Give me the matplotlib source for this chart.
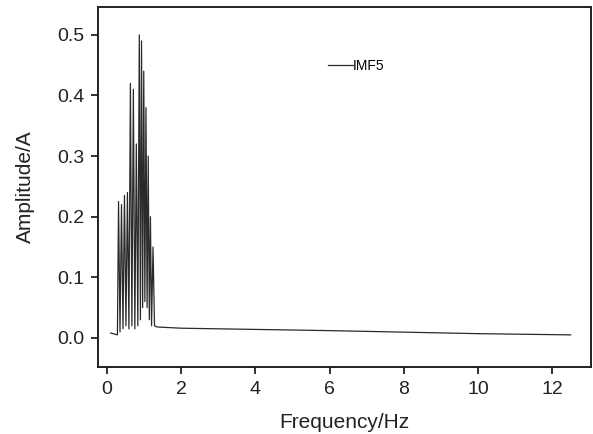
import numpy as np
import matplotlib
matplotlib.use("Agg")
import matplotlib.pyplot as plt

plt.rcParams['font.family'] = ['Liberation Sans', 'DejaVu Sans']

# spectrum of IMF5
freq = [0.10, 0.28, 0.31, 0.35, 0.39, 0.43, 0.47, 0.51, 0.55, 0.59, 0.63,
        0.67, 0.71, 0.75, 0.79, 0.83, 0.87, 0.90, 0.93, 0.96, 0.99, 1.02,
        1.05, 1.08, 1.11, 1.14, 1.17, 1.20, 1.24, 1.28, 1.35, 2.0, 6.0,
        10.0, 12.5]
amp = [0.008, 0.005, 0.225, 0.010, 0.220, 0.015, 0.235, 0.020, 0.240, 0.015,
       0.420, 0.020, 0.410, 0.015, 0.320, 0.020, 0.500, 0.030, 0.490, 0.050,
       0.440, 0.060, 0.380, 0.050, 0.300, 0.030, 0.200, 0.020, 0.150, 0.020,
       0.018, 0.016, 0.012, 0.007, 0.005]

xticks = [0, 2, 4, 6, 8, 10, 12]
yticks = [0.0, 0.1, 0.2, 0.3, 0.4, 0.5]

fig = plt.figure(figsize=(5.93, 4.34), dpi=100)
ax = fig.add_axes([0.1653, 0.1544, 0.8314, 0.8295])

ax.plot(freq, amp, color='#2a2a2a', linewidth=0.9, label='IMF5')

ax.set_xlim(-0.243, 13.05)
ax.set_ylim(-0.048, 0.546)
ax.set_xticks(xticks)
ax.set_yticks(yticks)
ax.set_yticklabels([f"{v:.1f}" for v in yticks])
ax.tick_params(direction='out', length=5, width=1.3, labelsize=14,
               colors='#222222', pad=5)
for s in ax.spines.values():
    s.set_linewidth(1.4)
    s.set_color('#222222')

ax.set_xlabel('Frequency/Hz', fontsize=15, labelpad=11, color='#222222')
ax.set_ylabel('Amplitude/A', fontsize=15, labelpad=16, color='#222222')

ax.legend(loc='center left', bbox_to_anchor=(0.467, 0.837), frameon=False,
          handlelength=1.75, handletextpad=0.0, borderpad=0, borderaxespad=0,
          fontsize=10)

fig.savefig('out.png', dpi=100)
